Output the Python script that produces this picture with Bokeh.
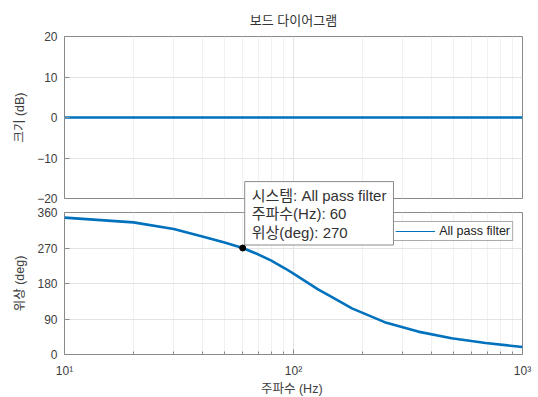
from bokeh.plotting import figure
from bokeh.models import FixedTicker, CustomJSTickFormatter, Label, Range1d
from bokeh.layouts import column
from bokeh.embed import file_html
from bokeh.resources import INLINE

# ---------------- data ----------------
freq_hz = [10, 20, 30, 40, 50, 60, 70, 80, 92, 100, 128, 150, 180, 250, 350, 490, 690, 1000]
phase_deg = [347, 335, 318, 299, 284, 270, 254, 238, 218, 205, 165, 143, 117, 82, 58, 41, 29, 19]
mag_db = [0, 0, 0, 0, 0, 0, 0, 0, 0, 0, 0, 0, 0, 0, 0, 0, 0, 0]

mag_ticks = [-20, -10, 0, 10, 20]
phase_ticks = [0, 90, 180, 270, 360]
freq_ticks = [10, 100, 1000]
freq_minor = [20, 30, 40, 50, 60, 70, 80, 90, 200, 300, 400, 500, 600, 700, 800, 900]

tip_freq = [60]
tip_phase = [270]
system_name = "All pass filter"
title_text = "보드 다이어그램"
mag_label = "크기 (dB)"
phase_label = "위상 (deg)"
freq_label = "주파수  (Hz)"
tip_text = "시스템: All pass filter\n주파수(Hz): 60\n위상(deg): 270"

# ---------------- styles ----------------
FONT = "'Liberation Sans', 'Noto Sans CJK KR', sans-serif"
BLUE = "#0072BD"
TXT = "#404040"
GRID = "#e3e3e3"
MGRID = "#f1f1f1"
OUT = "#8a8a8a"

FRAME_W = 458
MAG_H = 162
PH_H = 142
LEFT = 64
RIGHT = 12
MAG_TOP = 36
MAG_BOTTOM = 8
PH_TOP = 32
PH_BOTTOM = 38
OVERLAP = 26      # the phase canvas starts this far above the end of the magnitude canvas
TIP_EXTRA = 36    # how far the data-tip layer reaches above the phase frame


def style(p):
    p.outline_line_color = OUT
    p.outline_line_width = 1
    for ax in p.axis:
        ax.axis_line_color = None
        ax.major_tick_line_color = OUT
        ax.minor_tick_line_color = OUT
        ax.major_tick_in = 5
        ax.major_tick_out = 0
        ax.minor_tick_in = 3
        ax.minor_tick_out = 0
        ax.major_label_text_font = FONT
        ax.major_label_text_font_size = "12px"
        ax.major_label_text_color = TXT
        ax.axis_label_text_font = FONT
        ax.axis_label_text_font_size = "12.5px"
        ax.axis_label_text_font_style = "normal"
        ax.axis_label_text_color = TXT
    p.xgrid.ticker = FixedTicker(ticks=freq_ticks, minor_ticks=freq_minor)
    p.xgrid.grid_line_color = GRID
    p.ygrid.grid_line_color = GRID
    p.xgrid.minor_grid_line_color = MGRID
    p.yaxis.major_label_standoff = 7
    p.yaxis.axis_label_standoff = 7


# ---------------- magnitude ----------------
p1 = figure(frame_width=FRAME_W, frame_height=MAG_H, x_axis_type="log",
            x_range=Range1d(freq_ticks[0], freq_ticks[-1]),
            y_range=Range1d(mag_ticks[0], mag_ticks[-1]),
            output_backend="svg", toolbar_location=None,
            min_border_left=LEFT, min_border_right=RIGHT, min_border_top=MAG_TOP,
            min_border_bottom=MAG_BOTTOM, title=title_text,
            styles={"z-index": "1"})
p1.title.text_font = FONT
p1.title.text_font_size = "13px"
p1.title.text_font_style = "normal"
p1.title.text_color = "#333333"
p1.title.align = "center"
p1.title.standoff = 18
p1.line(freq_hz, mag_db, line_width=2.6, color=BLUE)
style(p1)
p1.yaxis.ticker = FixedTicker(ticks=mag_ticks)
p1.yaxis.axis_label = mag_label
p1.xaxis.visible = False
p1.border_fill_color = None
p1.background_fill_color = None

# ---------------- data-tip layer (same scales as the phase plot, frame reaching higher) ----------------
tip_top = phase_ticks[-1] * (PH_H + TIP_EXTRA) / PH_H
tip_layer_top = -OVERLAP + PH_TOP - TIP_EXTRA                       # relative to end of p1
tip_layer_bottom = -OVERLAP - tip_layer_top - (PH_H + TIP_EXTRA)    # so that p2 starts OVERLAP above p1's end
p3 = figure(frame_width=FRAME_W, frame_height=PH_H + TIP_EXTRA, x_axis_type="log",
            x_range=Range1d(freq_ticks[0], freq_ticks[-1]),
            y_range=Range1d(phase_ticks[0], tip_top),
            output_backend="svg", toolbar_location=None, title=None,
            min_border_left=LEFT, min_border_right=RIGHT, min_border_top=0,
            min_border_bottom=0, margin=(tip_layer_top, 0, tip_layer_bottom, 0),
            styles={"z-index": "10"})
p3.axis.visible = False
p3.grid.visible = False
p3.outline_line_color = None
p3.border_fill_color = None
p3.background_fill_color = None
p3.scatter(tip_freq, tip_phase, size=6, color="black")
tip = Label(x=tip_freq[0], y=tip_phase[0], text=tip_text, anchor="bottom_left",
            x_offset=2, y_offset=3,
            padding=dict(left=7, right=7, top=5, bottom=4),
            text_font=FONT, text_font_size="15px", text_color="#333333",
            text_line_height=1.1,
            background_fill_color="white", background_fill_alpha=1,
            border_line_color="#8a8a8a", border_line_width=1)
p3.add_layout(tip)

# ---------------- phase ----------------
p2 = figure(frame_width=FRAME_W, frame_height=PH_H, x_axis_type="log",
            x_range=Range1d(freq_ticks[0], freq_ticks[-1]),
            y_range=Range1d(phase_ticks[0], phase_ticks[-1]),
            output_backend="svg", toolbar_location=None,
            min_border_left=LEFT, min_border_right=RIGHT, min_border_top=PH_TOP,
            min_border_bottom=PH_BOTTOM, styles={"z-index": "5"})
p2.border_fill_color = None
p2.background_fill_color = None
p2.line(freq_hz, phase_deg, line_width=1, color=BLUE, legend_label=system_name)
p2.line(freq_hz, phase_deg, line_width=2.6, color=BLUE)
style(p2)
p2.yaxis.ticker = FixedTicker(ticks=phase_ticks)
p2.yaxis.axis_label = phase_label
p2.xaxis.ticker = FixedTicker(ticks=freq_ticks, minor_ticks=freq_minor)
p2.xaxis.formatter = CustomJSTickFormatter(code="""
    const sup = {0:'\u2070',1:'\u00b9',2:'\u00b2',3:'\u00b3',4:'\u2074'};
    return '10' + sup[Math.round(Math.log10(tick))];
""")
p2.xaxis.axis_label = freq_label
p2.xaxis.major_label_standoff = 9
p2.xaxis.axis_label_standoff = 1

lg = p2.legend[0]
lg.location = "top_right"
lg.margin = 9
lg.padding = 2
lg.spacing = 0
lg.glyph_width = 40
lg.glyph_height = 12
lg.label_standoff = 4
lg.label_text_font = FONT
lg.label_text_font_size = "12.5px"
lg.label_text_color = "#222222"
lg.label_height = 12
lg.border_line_color = "#555555"
lg.border_line_width = 1
lg.background_fill_alpha = 1

layout = column(p1, p3, p2, spacing=0)
open("out.html", "w").write(file_html(layout, INLINE))
